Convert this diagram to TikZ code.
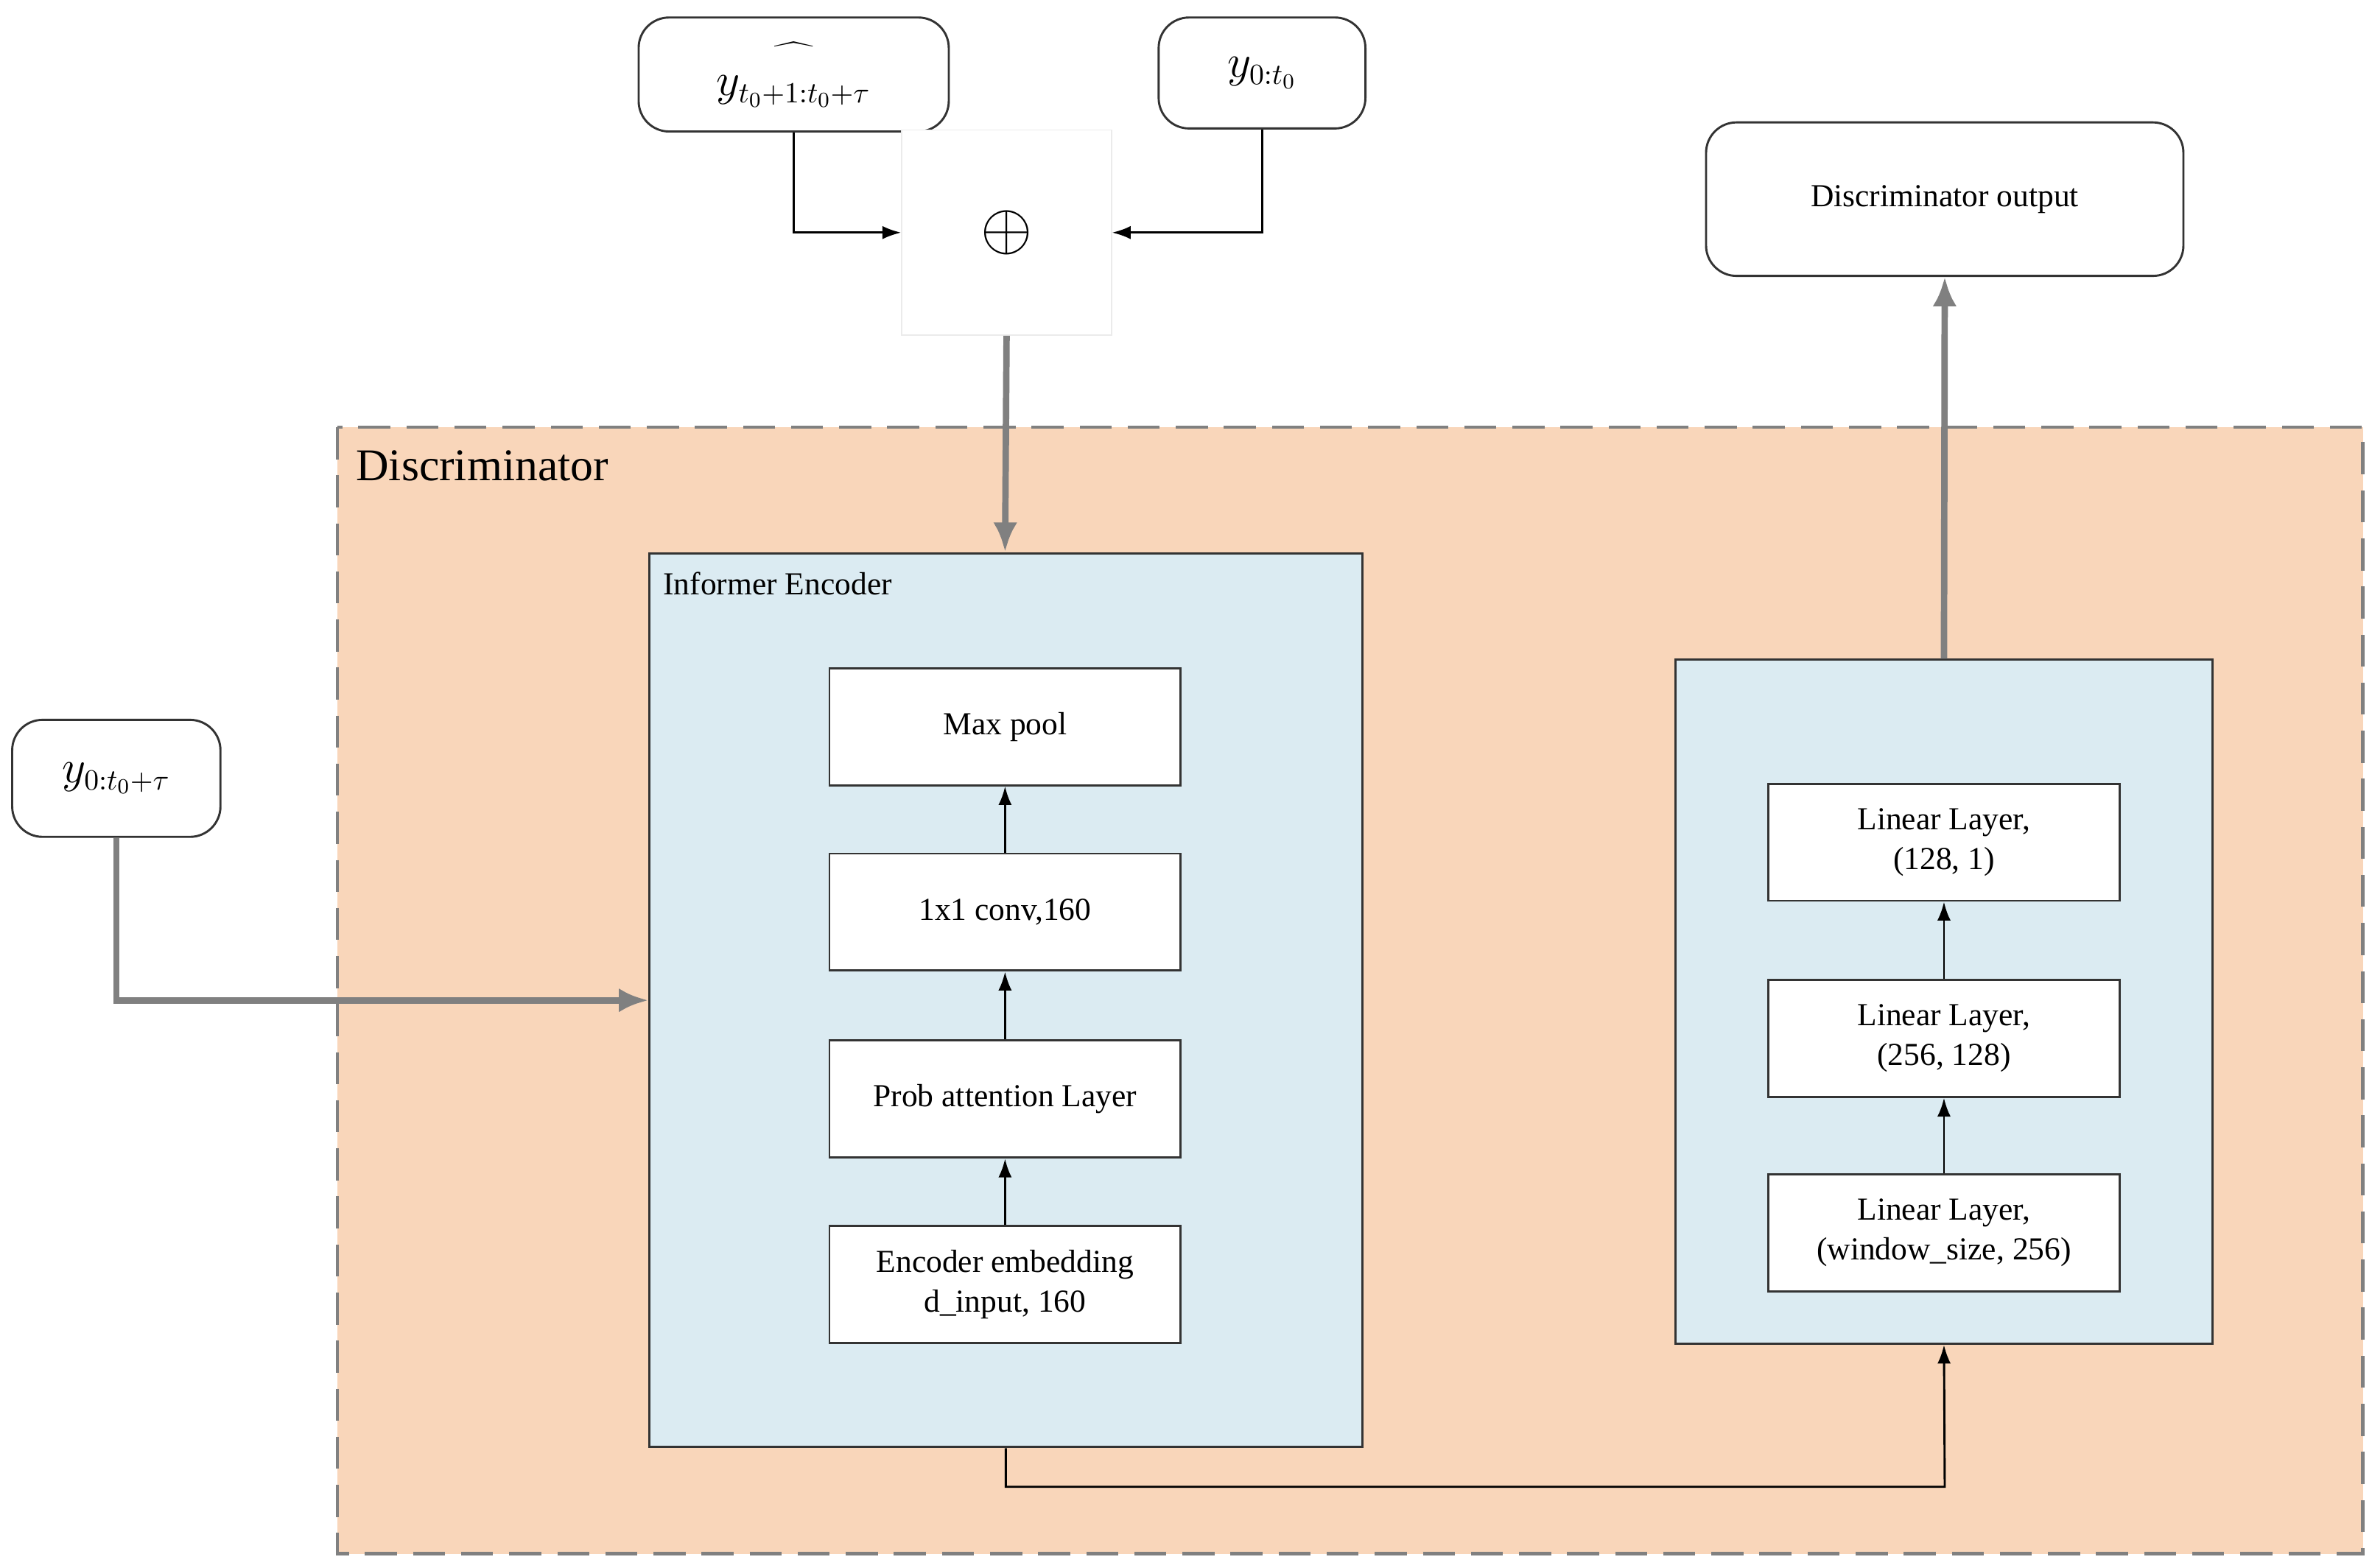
\documentclass[tikz,border=0pt]{standalone}
\usepackage{fontspec}
\setmainfont{Liberation Serif}
\usetikzlibrary{arrows.meta,positioning}
\definecolor{peach}{HTML}{F9D6BA}
\definecolor{paleblue}{HTML}{DBEBF2}
\definecolor{arrowgray}{HTML}{808080}
\begin{document}
\begin{tikzpicture}[x=0.02cm,y=-0.02cm,
  layer/.style={draw=black!80, thick, fill=white, minimum width=4.62cm, minimum height=1.54cm, align=center, font=\fontsize{12}{15}\selectfont, inner sep=0pt},
  term/.style={draw=black!80, thick, fill=white, rounded corners=0.4cm, align=center, inner sep=0pt},
  thin arrow/.style={-{Latex[length=7pt,width=5pt]}, thick, black},
  thick arrow/.style={-{Latex[length=11pt,width=9pt]}, line width=2.4pt, arrowgray}]
  \useasboundingbox (0,0) rectangle (1560,1031);
  % Diskriminator-Rahmen
  \draw[dashed, dash pattern=on 12pt off 6pt, line width=1.2pt, arrowgray, fill=peach] (222,281) rectangle (1554,1022);
  \node[anchor=north west, font=\fontsize{17}{20}\selectfont] (disc) at (228,290) {Discriminator};
  % Encoder
  \node[draw=black!80, thick, fill=paleblue, minimum width=9.38cm, minimum height=11.76cm, inner sep=0pt] (enc) at (661.5,658) {};
  \node[anchor=north west, font=\fontsize{12}{15}\selectfont] (enclabel) at (430,370) {Informer Encoder};
  \node[layer] (pool) at (661,478) {Max pool};
  \node[layer] (conv) at (661,600) {1x1 conv,160};
  \node[layer] (attn) at (661,723) {Prob attention Layer};
  \node[layer] (emb) at (661,845) {Encoder embedding\\d\_input, 160};
  \draw[thin arrow] (emb) -- (attn);
  \draw[thin arrow] (attn) -- (conv);
  \draw[thin arrow] (conv) -- (pool);
  % Linear-Block
  \node[draw=black!80, thick, fill=paleblue, minimum width=7.06cm, minimum height=9cm, inner sep=0pt] (lin) at (1278.5,659) {};
  \node[layer] (lin1) at (1278.5,554) {Linear Layer,\\(128, 1)};
  \node[layer] (lin2) at (1278.5,683) {Linear Layer,\\(256, 128)};
  \node[layer] (lin3) at (1278.5,811) {Linear Layer,\\(window\_size, 256)};
  \draw[thin arrow] (lin3) -- (lin2);
  \draw[thin arrow] (lin2) -- (lin1);
  \draw[thin arrow] (enc.south) |- (1279,978) -- (lin.south);
  % Ein- und Ausgaben
  \node[term, minimum width=6.28cm, minimum height=2.02cm, font=\fontsize{12}{15}\selectfont] (out) at (1279,131) {Discriminator output};
  \draw[thick arrow] (lin.north) -- (out.south);
  \node[term, minimum width=4.08cm, minimum height=1.5cm, font=\fontsize{16}{18}\selectfont] (pred) at (522,49) {$\widehat{\rule{0pt}{2.3ex}y_{t_0+1:t_0+\tau}}$};
  \node[term, minimum width=2.72cm, minimum height=1.46cm, font=\fontsize{16}{18}\selectfont] (past) at (830,48) {$y_{0:t_0}$};
  \node[term, minimum width=2.74cm, minimum height=1.54cm, font=\fontsize{16}{18}\selectfont] (full) at (76.5,512) {$y_{0:t_0+\tau}$};
  \node[draw=black!8, fill=white, minimum width=2.76cm, minimum height=2.7cm, font=\fontsize{24}{26}\selectfont] (sum) at (662,153) {$\oplus$};
  \draw[thin arrow] (pred.south) |- (sum.west);
  \draw[thin arrow] (past.south) |- (sum.east);
  \draw[thick arrow] (sum.south) -- (661,363);
  \draw[thick arrow] (full.south) |- (enc.west);
\end{tikzpicture}
\end{document}
